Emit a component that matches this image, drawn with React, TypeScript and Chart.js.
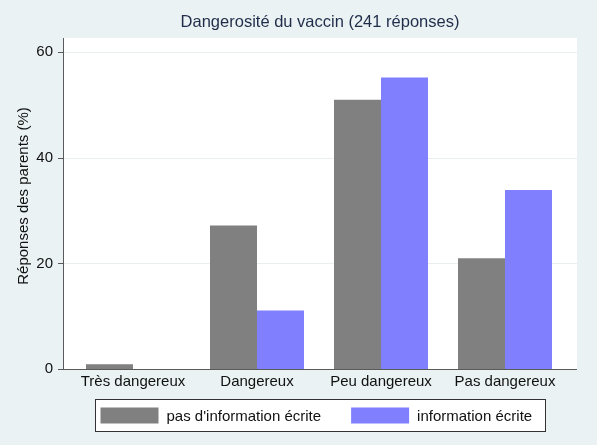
import React, { useEffect, useRef } from "react";
import { Chart, registerables } from "chart.js";

Chart.register(...registerables);

const categories = ["Très dangereux", "Dangereux", "Peu dangereux", "Pas dangereux"];
const seriesNames = ["pas d'information écrite", "information écrite"];
const noWrittenInfo = [0.9, 27.2, 51.0, 21.0];
const writtenInfo = [0, 11.1, 55.2, 33.9];
const seriesColors = ["#808080", "#8080ff"];
const yTicks = [0, 20, 40, 60];
const titleText = "Dangerosité du vaccin (241 réponses)";
const yTitleText = "Réponses des parents (%)";

const FONT = "'Liberation Sans', Arial, Helvetica, sans-serif";

const framePlugin = {
  id: "stataFrame",
  beforeDraw(chart: any) {
    const { ctx, chartArea: a, scales } = chart;
    const y = scales.y;
    const L = a.left - 8;
    const R = a.right + 10;
    ctx.save();
    ctx.fillStyle = "#ffffff";
    ctx.fillRect(L, a.top, R - L, a.bottom - a.top);
    ctx.lineWidth = 1;
    ctx.strokeStyle = "#e9eef0";
    y.ticks.forEach((t: any) => {
      if (t.value === 0) return;
      const py = Math.round(y.getPixelForValue(t.value)) + 0.5;
      ctx.beginPath();
      ctx.moveTo(L, py);
      ctx.lineTo(R, py);
      ctx.stroke();
    });
    ctx.restore();
  },
  afterDatasetsDraw(chart: any) {
    const { ctx, chartArea: a, scales } = chart;
    const y = scales.y;
    const L = a.left - 8;
    const R = a.right + 10;
    ctx.save();
    ctx.strokeStyle = "#5a5a5a";
    ctx.lineWidth = 1;
    ctx.beginPath();
    ctx.moveTo(L + 0.5, a.top);
    ctx.lineTo(L + 0.5, a.bottom + 0.5);
    ctx.moveTo(L, Math.round(a.bottom) + 0.5);
    ctx.lineTo(R, Math.round(a.bottom) + 0.5);
    y.ticks.forEach((t: any) => {
      const py = Math.round(y.getPixelForValue(t.value)) + 0.5;
      ctx.moveTo(L - 5, py);
      ctx.lineTo(L, py);
    });
    ctx.stroke();

    // main title
    ctx.fillStyle = "#1f2d4a";
    ctx.font = `16.5px ${FONT}`;
    ctx.textAlign = "center";
    ctx.textBaseline = "middle";
    ctx.fillText(titleText, (L + R) / 2, 22);

    // y axis title
    ctx.fillStyle = "#111111";
    ctx.font = `15px ${FONT}`;
    ctx.translate(24, 196);
    ctx.rotate(-Math.PI / 2);
    ctx.fillText(yTitleText, 0, 0);
    ctx.restore();

    // legend
    ctx.save();
    const ds = chart.data.datasets;
    ctx.font = `15px ${FONT}`;
    const sw = 58, sh = 16, gapT = 8, gapItem = 30, padL = 5, padR = 13;
    const widths = ds.map((d: any) => ctx.measureText(d.label).width);
    let total = padL + padR + gapItem * (ds.length - 1);
    widths.forEach((w: number) => (total += sw + gapT + w));
    total = Math.round(total);
    const cx = (L + R) / 2;
    const bx = Math.round(cx - total / 2) + 0.5;
    const by = Math.round(a.bottom) + 30.5;
    const bh = 32;
    ctx.fillStyle = "#ffffff";
    ctx.fillRect(bx, by, total, bh);
    ctx.strokeStyle = "#333333";
    ctx.strokeRect(bx, by, total, bh);
    let x = bx + padL;
    ds.forEach((d: any, i: number) => {
      ctx.fillStyle = d.backgroundColor;
      ctx.fillRect(x, by + 8, sw, sh);
      x += sw + gapT;
      ctx.fillStyle = "#111111";
      ctx.textAlign = "left";
      ctx.textBaseline = "middle";
      ctx.fillText(d.label, x, by + bh / 2 + 1);
      x += widths[i] + gapItem;
    });
    ctx.restore();
  },
};

export default function App() {
  const ref = useRef<HTMLCanvasElement | null>(null);

  useEffect(() => {
    if (!ref.current) return;
    const chart = new Chart(ref.current, {
      type: "bar",
      data: {
        labels: categories,
        datasets: [
          {
            label: seriesNames[0],
            data: noWrittenInfo,
            backgroundColor: seriesColors[0],
            borderWidth: 0,
            categoryPercentage: 0.758,
            barPercentage: 1,
          },
          {
            label: seriesNames[1],
            data: writtenInfo,
            backgroundColor: seriesColors[1],
            borderWidth: 0,
            categoryPercentage: 0.758,
            barPercentage: 1,
          },
        ],
      },
      options: {
        animation: false,
        responsive: true,
        maintainAspectRatio: false,
        layout: { padding: { left: 0, right: 30, top: 38, bottom: 50 } },
        plugins: {
          legend: { display: false },
          tooltip: { enabled: false },
          title: { display: false },
        },
        scales: {
          x: {
            grid: { display: false, drawTicks: false },
            border: { display: false },
            ticks: {
              color: "#111111",
              font: { family: FONT, size: 15 },
              padding: 4,
              maxRotation: 0,
              autoSkip: false,
            },
            afterFit: (s: any) => {
              s.height = 26;
            },
          },
          y: {
            min: 0,
            max: 62.7,
            grid: { display: false, drawTicks: false },
            border: { display: false },
            ticks: {
              color: "#111111",
              font: { family: FONT, size: 15 },
              padding: 18,
            },
            afterBuildTicks: (s: any) => {
              s.ticks = yTicks.map((v) => ({ value: v }));
            },
            afterFit: (s: any) => {
              s.width = 71;
            },
          },
        },
      },
      plugins: [framePlugin],
    });
    return () => chart.destroy();
  }, []);

  return (
    <div
      style={{
        position: "absolute",
        left: 0,
        top: 0,
        width: 597,
        height: 445,
        background: "#eaf2f3",
      }}
    >
      <canvas ref={ref} />
    </div>
  );
}
